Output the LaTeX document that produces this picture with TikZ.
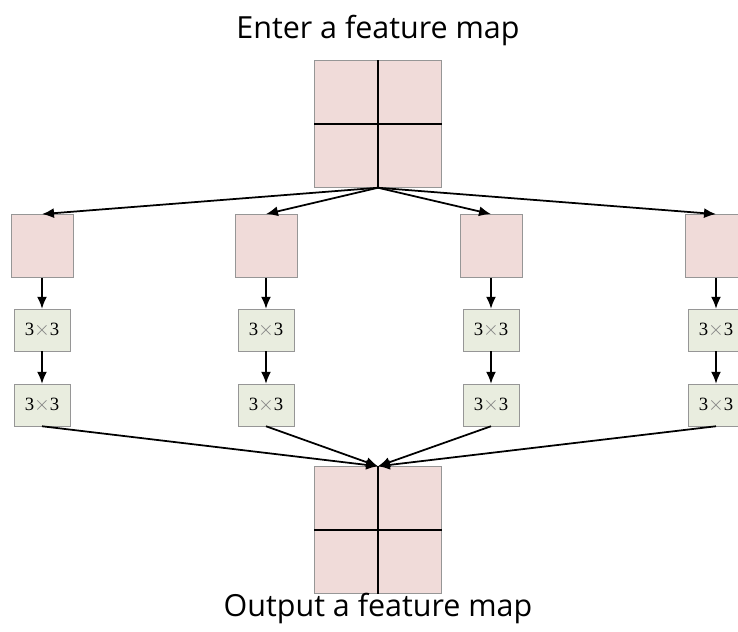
\documentclass[tikz,border=0pt]{standalone}
\usepackage{fontspec}
\usetikzlibrary{arrows.meta}
\setmainfont{Open Sans}
\newfontfamily\cellfont{Liberation Serif}
\definecolor{mappink}{RGB}{240,219,217}
\definecolor{convgreen}{RGB}{233,237,223}
\definecolor{edgegray}{RGB}{150,150,150}

\begin{document}
\begin{tikzpicture}[x=0.03cm,y=-0.03cm,
	bigmap/.style={draw=edgegray,fill=mappink,minimum size=3.81cm,inner sep=0pt},
	submap/.style={draw=edgegray,fill=mappink,minimum width=1.86cm,minimum height=1.9cm,inner sep=0pt},
	conv/.style={draw=edgegray,fill=convgreen,minimum width=1.68cm,minimum height=1.26cm,inner sep=0pt,font=\cellfont\fontsize{16}{19}\selectfont},
	title/.style={font=\fontsize{26}{31}\selectfont},
	flow/.style={-{Latex[length=3.6mm,width=3mm]},line width=1.5pt}]
	\useasboundingbox (0,0) rectangle (738,631);
	% input and output maps
	\node[title] (intitle) at (378,30) {Enter a feature map};
	\node[bigmap] (in) at (378,124) {};
	\node[bigmap] (out) at (378,530) {};
	\node[title] (outtitle) at (378,608) {Output a feature map};
	\draw[line width=1.5pt](in.north)--(in.south);
	\draw[line width=1.5pt](in.west)--(in.east);
	\draw[line width=1.5pt](out.north)--(out.south);
	\draw[line width=1.5pt](out.west)--(out.east);
	% four branches
	\node[submap] (s1) at (42,246) {};
	\node[submap] (s2) at (266,246) {};
	\node[submap] (s3) at (491,246) {};
	\node[submap] (s4) at (716,246) {};
	\node[conv] (a1) at (42,330) {3{\color{gray}$\times$}3};
	\node[conv] (a2) at (266,330) {3{\color{gray}$\times$}3};
	\node[conv] (a3) at (491,330) {3{\color{gray}$\times$}3};
	\node[conv] (a4) at (716,330) {3{\color{gray}$\times$}3};
	\node[conv] (b1) at (42,405) {3{\color{gray}$\times$}3};
	\node[conv] (b2) at (266,405) {3{\color{gray}$\times$}3};
	\node[conv] (b3) at (491,405) {3{\color{gray}$\times$}3};
	\node[conv] (b4) at (716,405) {3{\color{gray}$\times$}3};
	% split
	\draw[flow](in.south)--(s1.north);
	\draw[flow](in.south)--(s2.north);
	\draw[flow](in.south)--(s3.north);
	\draw[flow](in.south)--(s4.north);
	% down each branch
	\draw[flow](s1)--(a1);
	\draw[flow](s2)--(a2);
	\draw[flow](s3)--(a3);
	\draw[flow](s4)--(a4);
	\draw[flow](a1)--(b1);
	\draw[flow](a2)--(b2);
	\draw[flow](a3)--(b3);
	\draw[flow](a4)--(b4);
	% merge
	\draw[flow](b1.south)--(out.north);
	\draw[flow](b2.south)--(out.north);
	\draw[flow](b3.south)--(out.north);
	\draw[flow](b4.south)--(out.north);
\end{tikzpicture}
\end{document}
